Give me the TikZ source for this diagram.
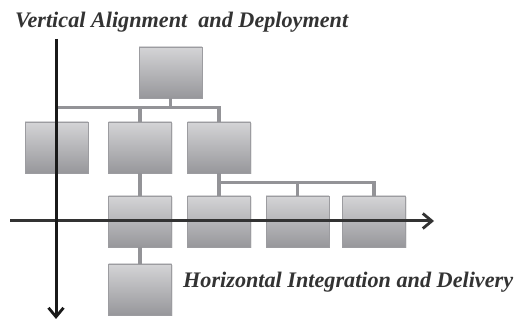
\documentclass[tikz,border=0pt]{standalone}
\usepackage{fontspec}
\setmainfont{Liberation Serif}
\usetikzlibrary{arrows.meta,shadows}
\definecolor{boxtop}{HTML}{D4D4D6}
\definecolor{boxbot}{HTML}{97979B}
\definecolor{boxline}{HTML}{9C9CA0}
\definecolor{linkgray}{HTML}{939397}
\definecolor{textgray}{HTML}{333333}
\tikzset{
  unit/.style={rectangle, draw=boxline, line width=0.9pt, top color=boxtop,
    bottom color=boxbot, minimum width=63pt, minimum height=51pt, inner sep=0pt,
    drop shadow={opacity=0.18, shadow xshift=1pt, shadow yshift=-1pt}},
  link/.style={linkgray, line width=3.6pt},
  axis/.style={line width=3pt, -{Straight Barb[length=9pt,width=15pt,line width=2.8pt]}},
  caption/.style={anchor=base west, inner sep=0pt, text=textgray,
    font=\fontsize{22.2}{25}\selectfont\bfseries\itshape}
}
\begin{document}
\begin{tikzpicture}[x=1pt,y=-1pt]
\useasboundingbox (0,0) rectangle (525,320);

\node[unit] (root) at (170.5,72.5) {};
\node[unit] (a1) at (56.5,147.5) {};
\node[unit] (a2) at (140,147.5) {};
\node[unit] (a3) at (219,147.5) {};
\node[unit] (b1) at (140,221.5) {};
\node[unit] (b2) at (219,221.5) {};
\node[unit] (b3) at (297.5,221.5) {};
\node[unit] (b4) at (374,221.5) {};
\node[unit] (c1) at (140,289.5) {};

\draw[link] (root.south) -- ++(0,9) coordinate (bus1) -| (a1.north);
\draw[link] (bus1) -| (a2.north);
\draw[link] (bus1) -| (a3.north);
\draw[link] (a2.south) -- (b1.north);
\draw[link] (a3.south) -- ++(0,9) coordinate (bus2) -| (b4.north);
\draw[link] (bus2) -| (b3.north);
\draw[link] (bus2) -- (b2.north);
\draw[link] (b1.south) -- (c1.north);

\coordinate (hstart) at (10,221);
\coordinate (hend) at (434,221);
\coordinate (vstart) at (56,39);
\coordinate (vend) at (56,319);
\draw[axis, color=black!80] (hstart) -- (hend);
\draw[axis, color=black!90] (vstart) -- (vend);

\node[caption] (vcap) at (15,28) {Vertical Alignment\ \ and Deployment};
\node[caption] (hcap) at (183,288) {Horizontal Integration and Delivery};
\end{tikzpicture}
\end{document}
